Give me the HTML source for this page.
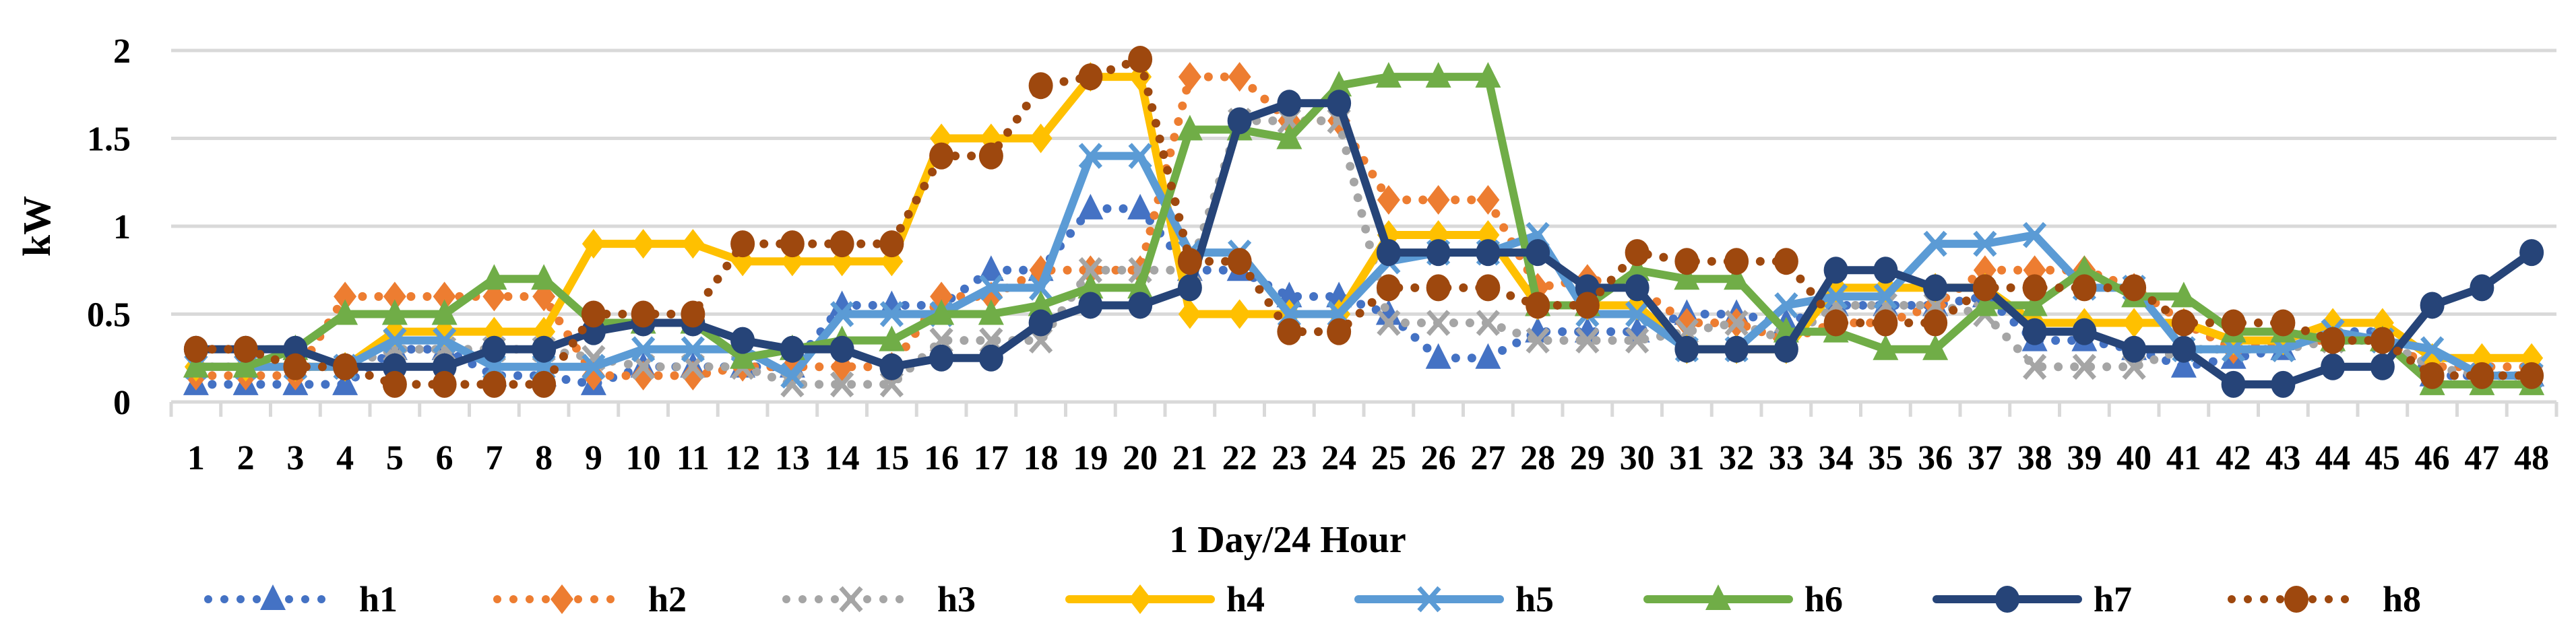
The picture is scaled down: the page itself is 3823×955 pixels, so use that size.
<!DOCTYPE html>
<html><head><meta charset="utf-8"><style>
html,body{margin:0;padding:0;background:#fff;}
svg{display:block;font-family:"Liberation Serif",serif;font-weight:bold;}
</style></head><body>
<svg id="chart" width="3823" height="955" viewBox="0 0 3823 955" xmlns="http://www.w3.org/2000/svg">
<g id="grid"></g>
<g id="axes"></g>
<g id="series"></g>
<g id="legend"></g>
<text x="0" y="0" font-size="58" text-anchor="middle" transform="translate(74,336) rotate(-90)">kW</text>
<text x="1911" y="820" font-size="56" text-anchor="middle">1 Day/24 Hour</text>
</svg>
<script>
const categories = Array.from({length:48},(_,i)=>String(i+1));
const yTicks = [0,0.5,1,1.5,2];
const yTickLabels = ["0","0.5","1","1.5","2"];
const seriesNames = ["h1","h2","h3","h4","h5","h6","h7","h8"];
const h1 = [0.1,0.1,0.1,0.1,0.3,0.3,0.15,0.15,0.1,0.2,0.2,0.2,0.2,0.55,0.55,0.55,0.75,0.75,1.1,1.1,0.75,0.75,0.6,0.6,0.5,0.25,0.25,0.4,0.4,0.4,0.5,0.5,0.45,0.55,0.55,0.55,0.6,0.35,0.35,0.3,0.2,0.25,0.3,0.4,0.4,0.15,0.15,0.15];
const h2 = [0.15,0.15,0.15,0.6,0.6,0.6,0.6,0.6,0.15,0.15,0.15,0.2,0.2,0.2,0.2,0.6,0.6,0.75,0.75,0.75,1.85,1.85,1.6,1.6,1.15,1.15,1.15,0.65,0.7,0.65,0.45,0.45,0.35,0.45,0.45,0.55,0.75,0.75,0.75,0.65,0.45,0.3,0.35,0.35,0.35,0.2,0.2,0.2];
const h3 = [0.2,0.2,0.2,0.2,0.3,0.3,0.3,0.3,0.25,0.2,0.2,0.2,0.1,0.1,0.1,0.35,0.35,0.35,0.75,0.75,0.75,1.6,1.6,1.6,0.45,0.45,0.45,0.35,0.35,0.35,0.4,0.45,0.35,0.55,0.55,0.55,0.5,0.2,0.2,0.2,0.3,0.3,0.3,0.35,0.35,0.2,0.15,0.15];
const h4 = [0.2,0.2,0.2,0.2,0.4,0.4,0.4,0.4,0.9,0.9,0.9,0.8,0.8,0.8,0.8,1.5,1.5,1.5,1.85,1.85,0.5,0.5,0.5,0.5,0.95,0.95,0.95,0.55,0.55,0.55,0.3,0.3,0.3,0.65,0.65,0.65,0.65,0.45,0.45,0.45,0.45,0.35,0.35,0.45,0.45,0.25,0.25,0.25];
const h5 = [0.2,0.2,0.2,0.2,0.35,0.35,0.2,0.2,0.2,0.3,0.3,0.3,0.15,0.5,0.5,0.5,0.65,0.65,1.4,1.4,0.85,0.85,0.5,0.5,0.8,0.85,0.85,0.95,0.5,0.5,0.3,0.3,0.55,0.6,0.6,0.9,0.9,0.95,0.65,0.65,0.3,0.3,0.3,0.4,0.35,0.3,0.15,0.15];
const h6 = [0.2,0.2,0.3,0.5,0.5,0.5,0.7,0.7,0.45,0.45,0.45,0.25,0.3,0.35,0.35,0.5,0.5,0.55,0.65,0.65,1.55,1.55,1.5,1.8,1.85,1.85,1.85,0.55,0.55,0.75,0.7,0.7,0.4,0.4,0.3,0.3,0.55,0.55,0.75,0.6,0.6,0.4,0.4,0.35,0.35,0.1,0.1,0.1];
const h7 = [0.3,0.3,0.3,0.2,0.2,0.2,0.3,0.3,0.4,0.45,0.45,0.35,0.3,0.3,0.2,0.25,0.25,0.45,0.55,0.55,0.65,1.6,1.7,1.7,0.85,0.85,0.85,0.85,0.65,0.65,0.3,0.3,0.3,0.75,0.75,0.65,0.65,0.4,0.4,0.3,0.3,0.1,0.1,0.2,0.2,0.55,0.65,0.85];
const h8 = [0.3,0.3,0.2,0.2,0.1,0.1,0.1,0.1,0.5,0.5,0.5,0.9,0.9,0.9,0.9,1.4,1.4,1.8,1.85,1.95,0.8,0.8,0.4,0.4,0.65,0.65,0.65,0.55,0.55,0.85,0.8,0.8,0.8,0.45,0.45,0.45,0.65,0.65,0.65,0.65,0.45,0.45,0.45,0.35,0.35,0.15,0.15,0.15];

const NS="http://www.w3.org/2000/svg";
const L=254, R=3794, Y0=597, YSCALE=261;
const bw=(R-L)/categories.length;
function xPos(i){return L+bw*(i+0.5);}
function yPos(v){return Y0-v*YSCALE;}
function mk(tag,attrs,parent){const e=document.createElementNS(NS,tag);for(const k in attrs)e.setAttribute(k,attrs[k]);parent.appendChild(e);return e;}

const grid=document.getElementById('grid'), axes=document.getElementById('axes');
yTicks.forEach((t,i)=>{
  if(t>0){const g=mk('line',{x1:L,x2:R,y1:yPos(t),y2:yPos(t),stroke:'#d9d9d9','stroke-width':5},grid);
  
  }
  const tx=mk('text',{x:194,y:yPos(t)+18,'font-size':52,'text-anchor':'end'},axes);
  tx.textContent=yTickLabels[i];
  
  
});
const ax=mk('line',{x1:L,x2:R,y1:Y0,y2:Y0,stroke:'#d9d9d9','stroke-width':5},axes);


for(let i=0;i<=categories.length;i++){
  const tk=mk('line',{x1:L+bw*i,x2:L+bw*i,y1:Y0,y2:Y0+22,stroke:'#d9d9d9','stroke-width':5},axes);
  
  
}
categories.forEach((c,i)=>{
  const tx=mk('text',{x:xPos(i),y:697,'font-size':52,'text-anchor':'middle'},axes);
  tx.textContent=c;
  
  
});

const data=[h1,h2,h3,h4,h5,h6,h7,h8];
const colors=['#4472C4','#ED7D31','#A5A5A5','#FFC000','#5B9BD5','#70AD47','#264478','#9E480E'];
const markers=['triangle','diamond','x','diamond','x','triangle','circle','circle'];
const dotted=[true,true,true,false,false,false,false,true];

function drawMarker(type,x,y,color,parent){
  let e;
  if(type==='triangle') e=mk('path',{d:`M${x},${y-22} L${x+19},${y+16} L${x-19},${y+16} Z`,fill:color},parent);
  else if(type==='diamond') e=mk('path',{d:`M${x},${y-22} L${x+17},${y} L${x},${y+22} L${x-17},${y} Z`,fill:color},parent);
  else if(type==='x') e=mk('path',{d:`M${x-15},${y-17} L${x+15},${y+17} M${x+15},${y-17} L${x-15},${y+17}`,stroke:color,'stroke-width':7,fill:'none'},parent);
  else e=mk('ellipse',{cx:x,cy:y,rx:18,ry:20,fill:color},parent);
  return e;
}

const sg=document.getElementById('series');
data.forEach((vals,s)=>{
  const g=mk('g',{},sg);
  
  
  const pts=vals.map((v,i)=>xPos(i)+','+yPos(v)).join(' ');
  const attrs={points:pts,fill:'none',stroke:colors[s],'stroke-width':12,'stroke-linejoin':'round','stroke-linecap':'round'};
  if(dotted[s]){attrs['stroke-dasharray']='0 24';attrs['stroke-width']=13;}
  const pl=mk('polyline',attrs,g);
  
  
  vals.forEach((v,i)=>{
    const m=drawMarker(markers[s],xPos(i),yPos(v),colors[s],g);
    
    
  });
});

const lg=document.getElementById('legend');
seriesNames.forEach((n,s)=>{
  const cx=405+429*s, cy=890;
  const g=mk('g',{},lg);
  
  
  const attrs={x1:cx-105,x2:cx+105,y1:cy,y2:cy,stroke:colors[s],'stroke-width':12,'stroke-linecap':'round'};
  if(dotted[s]){attrs['stroke-dasharray']='0 24';attrs['x1']=cx-96;attrs['x2']=cx+96;}
  mk('line',attrs,g);
  drawMarker(markers[s],cx,cy,colors[s],g);
  const t=mk('text',{x:cx+128,y:cy+18,'font-size':54},g);
  t.textContent=n;
});
</script>
</body></html>
